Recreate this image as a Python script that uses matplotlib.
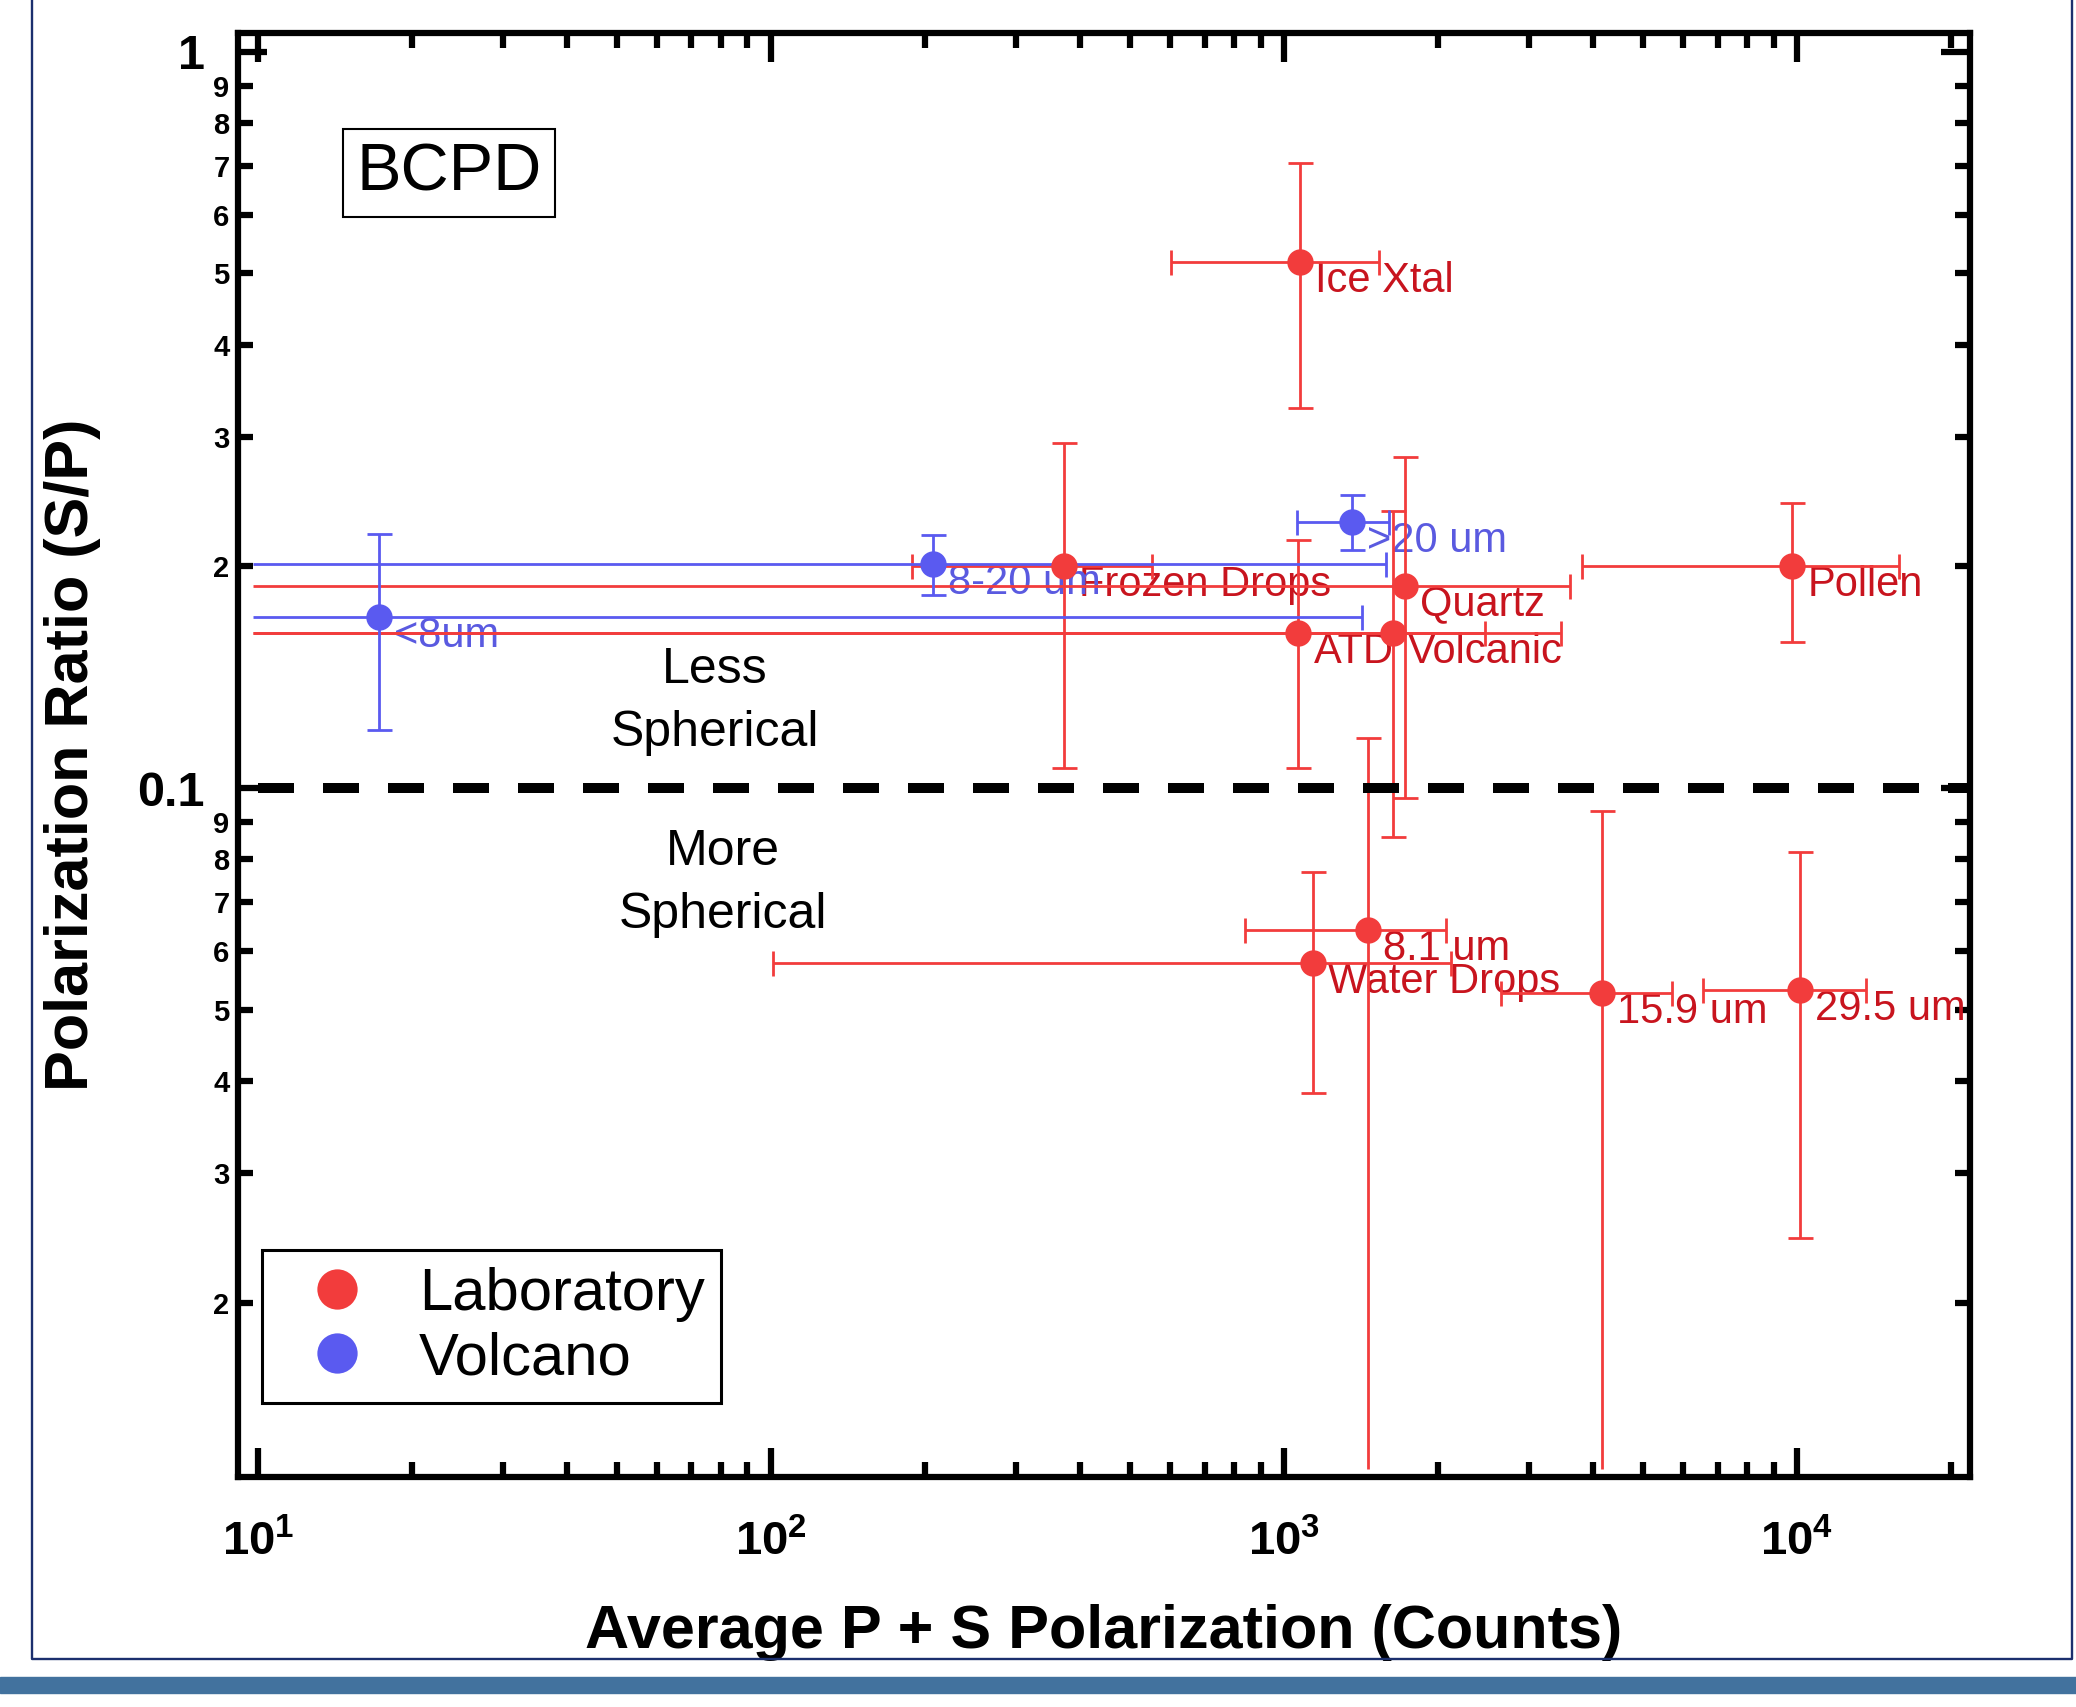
"""
BCPD polarization ratio vs average P+S counts, laboratory vs volcano particles.
"""
import numpy as np
import matplotlib
matplotlib.use("Agg")
import matplotlib.pyplot as plt
from matplotlib.lines import Line2D
from matplotlib.patches import Rectangle
from matplotlib.ticker import FixedLocator, FixedFormatter, NullFormatter

plt.rcParams["font.family"] = ["Liberation Sans", "DejaVu Sans"]
plt.rcParams["mathtext.fontset"] = "custom"
plt.rcParams["mathtext.rm"] = "Liberation Sans"
plt.rcParams["mathtext.bf"] = "Liberation Sans:bold"

# ---------------------------------------------------------------------------
# Data. None in a lower bound = bar runs to the axis
# edge without a cap.
# ---------------------------------------------------------------------------
lab_names = ["Ice Xtal", "Frozen Drops", "Quartz", "ATD", "Volcanic", "Pollen",
             "Water Drops", "8.1 um", "15.9 um", "29.5 um"]
lab_x = [1074, 372, 1718, 1067, 1629, 9772, 1140, 1455, 4170, 10120]
lab_y = [0.518, 0.200, 0.1884, 0.1623, 0.1623, 0.2005, 0.0579, 0.0641, 0.0526, 0.0531]
lab_x_lo = [603, 188, None, None, None, 3812, 101, 841, 2652, 6560]
lab_x_hi = [1535, 552, 3614, 2470, 3467, 15810, 2117, 2066, 5716, 13620]
lab_y_lo = [0.328, 0.1064, 0.0968, 0.1064, 0.0858, 0.1577, 0.0385, None, None, 0.0245]
lab_y_hi = [0.706, 0.294, 0.2816, 0.217, 0.2376, 0.2436, 0.0769, 0.117, 0.0932, 0.0820]

vol_names = ["<8um", "8-20 um", ">20 um"]
vol_x = [17.2, 207, 1355]
vol_y = [0.1706, 0.2014, 0.2298]
vol_x_lo = [None, None, 1061]
vol_x_hi = [1420, 1581, 1600]
vol_y_lo = [0.120, 0.1831, 0.2108]
vol_y_hi = [0.2215, 0.2206, 0.2497]

X_OPEN = 9.8       # where the open-ended x bars stop
Y_OPEN = 0.0119    # where the open-ended y bars stop
SPLIT_Y = 0.1      # less / more spherical boundary
SPLIT_X0 = 10

x_ticks = [10, 100, 1000, 10000]
x_tick_labels = [r"$\mathbf{10^{1}}$", r"$\mathbf{10^{2}}$",
                 r"$\mathbf{10^{3}}$", r"$\mathbf{10^{4}}$"]
x_minor = [m * d for d in (10, 100, 1000) for m in range(2, 10)] + [20000]
y_major = [0.1, 1]
y_major_labels = ["0.1", "1"]
y_minor = [m * d for d in (0.01, 0.1) for m in range(2, 10)]
y_minor_labels = [str(m) for m in range(2, 10)] * 2

RED = "#F23C3C"
RED_TXT = "#C8141E"
BLUE = "#5A5AF0"
BLUE_TXT = "#5A5AE0"


def draw_series(ax, names, x, y, xlo, xhi, ylo, yhi, color, txt_color):
    x = np.asarray(x, float)
    y = np.asarray(y, float)
    xhi = np.asarray(xhi, float)
    yhi = np.asarray(yhi, float)
    xlo_f = np.array([X_OPEN if v is None else v for v in xlo], float)
    ylo_f = np.array([Y_OPEN if v is None else v for v in ylo], float)
    ax.errorbar(x, y, xerr=[x - xlo_f, xhi - x], yerr=[y - ylo_f, yhi - y],
                fmt="none", ecolor=color, elinewidth=2, capsize=0, zorder=3)
    # caps only on the closed ends
    cap = dict(linestyle="none", color=color, ms=18, mew=2, zorder=3)
    cx = np.array([v is not None for v in xlo])
    cy = np.array([v is not None for v in ylo])
    ax.plot(xlo_f[cx], y[cx], marker="|", **cap)
    ax.plot(xhi, y, marker="|", **cap)
    ax.plot(x[cy], ylo_f[cy], marker="_", **cap)
    ax.plot(x, yhi, marker="_", **cap)
    ax.plot(x, y, "o", color=color, ms=19, mec="none", zorder=4)
    for n, xi, yi in zip(names, x, y):
        ax.annotate(n, (xi, yi), xytext=(11, -21.6), textcoords="offset points",
                    color=txt_color, fontsize=30, ha="left", va="baseline",
                    zorder=2.5, annotation_clip=False)


fig = plt.figure(figsize=(20.76, 17.07), dpi=100)
ax = fig.add_axes([0.1146, 0.1347, 0.8343, 0.846])
ax.set_xscale("log")
ax.set_yscale("log")
ax.set_xlim(9.14, 21730)
ax.set_ylim(0.01159, 1.061)

draw_series(ax, lab_names, lab_x, lab_y, lab_x_lo, lab_x_hi, lab_y_lo, lab_y_hi, RED, RED_TXT)
draw_series(ax, vol_names, vol_x, vol_y, vol_x_lo, vol_x_hi, vol_y_lo, vol_y_hi, BLUE, BLUE_TXT)

ax.plot([SPLIT_X0, ax.get_xlim()[1]], [SPLIT_Y, SPLIT_Y], color="black", lw=7.2,
        linestyle=(0, (3.6, 2.9)), zorder=5, solid_capstyle="butt")

# --- axes / ticks ---
ax.xaxis.set_major_locator(FixedLocator(x_ticks))
ax.xaxis.set_major_formatter(FixedFormatter(x_tick_labels))
ax.xaxis.set_minor_locator(FixedLocator(x_minor))
ax.xaxis.set_minor_formatter(NullFormatter())
ax.yaxis.set_major_locator(FixedLocator(y_major))
ax.yaxis.set_major_formatter(FixedFormatter(y_major_labels))
ax.yaxis.set_minor_locator(FixedLocator(y_minor))
ax.yaxis.set_minor_formatter(FixedFormatter(y_minor_labels))

ax.tick_params(which="both", direction="in", top=True, right=True, width=4.5, color="black")
ax.tick_params(which="major", length=21)
ax.tick_params(which="minor", length=10.5)
ax.tick_params(axis="x", which="major", labelsize=34, pad=31)
ax.tick_params(axis="y", which="major", labelsize=35, pad=24)
ax.tick_params(axis="y", which="minor", labelsize=21, pad=6)
for lbl in ax.get_xticklabels() + ax.get_yticklabels() + ax.get_yticklabels(minor=True):
    lbl.set_fontweight("bold")
for s in ax.spines.values():
    s.set_linewidth(4.5)

ax.set_xlabel("Average P + S Polarization (Counts)", fontsize=44, fontweight="bold", va="baseline")
ax.xaxis.set_label_coords(0.5, -0.1184)
ax.set_ylabel("Polarization Ratio (S/P)", fontsize=44, fontweight="bold", va="center")
ax.yaxis.set_label_coords(-0.0953, 0.5)

# --- annotations ---
ax.text(0.1221, 0.903, "BCPD", transform=ax.transAxes, fontsize=48, ha="center", va="center",
        bbox=dict(boxstyle="square,pad=0.2", fc="white", ec="black", lw=1.5))
ax.text(0.2754, 0.537, "Less\nSpherical", transform=ax.transAxes, fontsize=36,
        ha="center", va="center", multialignment="center", linespacing=1.45)
ax.text(0.280, 0.411, "More\nSpherical", transform=ax.transAxes, fontsize=36,
        ha="center", va="center", multialignment="center", linespacing=1.45)

handles = [Line2D([], [], ls="none", marker="o", ms=29, color=RED, mec="none"),
           Line2D([], [], ls="none", marker="o", ms=29, color=BLUE, mec="none")]
leg = ax.legend(handles, ["Laboratory", "Volcano"], loc="upper left",
                bbox_to_anchor=(0.01386, 0.1572), borderaxespad=0, fontsize=43,
                fancybox=False, edgecolor="black", framealpha=1, borderpad=0.28,
                handlelength=1.95, handletextpad=0.4, labelspacing=0.16)
leg.get_frame().set_linewidth(2.2)

# --- slide frame around the figure ---
W, H = 2076, 1707
fig.add_artist(Line2D([32 / W, 32 / W, 2072 / W, 2072 / W],
                      [1, 1 - 1659 / H, 1 - 1659 / H, 1],
                      color="#1B2F6E", lw=1.7, transform=fig.transFigure))
fig.add_artist(Rectangle((0, 1 - 1693 / H), 1, 16 / H, color="#42729E",
                         transform=fig.transFigure))

plt.savefig("out.png", dpi=100)
plt.close()
